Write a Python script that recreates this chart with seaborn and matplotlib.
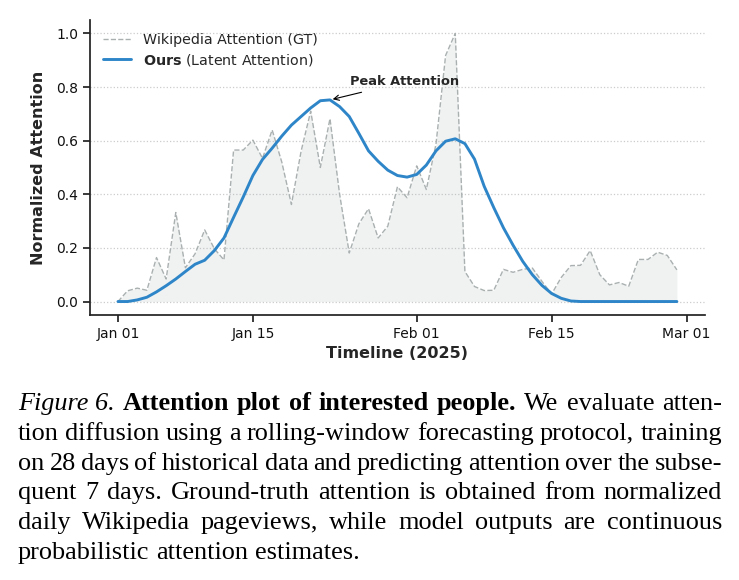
import numpy as np
import pandas as pd
import seaborn as sns
import matplotlib.pyplot as plt
import matplotlib.dates as mdates

# daily values, Jan 01 .. Feb 28 2025
dates = pd.date_range("2025-01-01", "2025-02-28", freq="D")

wiki_gt = [
    0.0, 0.04, 0.05, 0.042, 0.164, 0.084, 0.332, 0.126, 0.178, 0.267,
    0.197, 0.155, 0.565, 0.565, 0.602, 0.534, 0.64, 0.52, 0.362, 0.56,
    0.71, 0.50, 0.682, 0.40, 0.181, 0.29, 0.346, 0.237, 0.281, 0.428,
    0.387, 0.506, 0.418, 0.587, 0.918, 1.0, 0.112, 0.056, 0.041, 0.042,
    0.12, 0.109, 0.12, 0.125, 0.075, 0.028, 0.09, 0.134, 0.135, 0.19,
    0.10, 0.062, 0.071, 0.057, 0.157, 0.157, 0.184, 0.172, 0.118,
]

ours = [
    0.0, 0.0, 0.006, 0.016, 0.036, 0.059, 0.084, 0.112, 0.139, 0.154,
    0.19, 0.237, 0.314, 0.39, 0.47, 0.53, 0.572, 0.617, 0.658, 0.69,
    0.722, 0.749, 0.752, 0.727, 0.69, 0.627, 0.562, 0.523, 0.49, 0.47,
    0.464, 0.474, 0.509, 0.562, 0.598, 0.607, 0.589, 0.531, 0.43, 0.35,
    0.275, 0.21, 0.15, 0.10, 0.06, 0.03, 0.012, 0.002, 0.0, 0.0,
    0.0, 0.0, 0.0, 0.0, 0.0, 0.0, 0.0, 0.0, 0.0,
]

df = pd.DataFrame({"date": dates, "gt": wiki_gt, "ours": ours})

sns.set_theme(style="ticks")
plt.rcParams["font.family"] = ["DejaVu Sans"]

fig = plt.figure(figsize=(7.39, 5.8), dpi=100)
ax = fig.add_axes([0.1218, 0.457, 0.832, 0.5085])

ax.fill_between(df["date"], df["gt"], color="#95a5a6", alpha=0.14, lw=0)
sns.lineplot(data=df, x="date", y="gt", ax=ax, color="#aab0b0",
             linestyle="--", lw=1.0, label="Wikipedia Attention (GT)")
sns.lineplot(data=df, x="date", y="ours", ax=ax, color="#2e86c8",
             lw=2.1, label=r"$\bf{Ours}$ (Latent Attention)")

# peak annotation
i_peak = int(np.argmax(ours))
ax.annotate("Peak Attention", xy=(dates[i_peak], ours[i_peak]),
            xytext=(14.5, 10.5), textcoords="offset points",
            fontsize=9.4, fontweight="bold",
            arrowprops=dict(arrowstyle="->", color="black", lw=0.8))

ax.xaxis.set_major_locator(mdates.DayLocator(bymonthday=[1, 15]))
ax.xaxis.set_major_formatter(mdates.DateFormatter("%b %d"))
ax.set_yticks([0.0, 0.2, 0.4, 0.6, 0.8, 1.0])
ax.yaxis.set_major_formatter(plt.FormatStrFormatter("%.1f"))
ax.tick_params(labelsize=10, length=5, color="#222222", labelcolor="#111111")
ax.yaxis.grid(True, linestyle=":", color="#cccccc", lw=0.9)
sns.despine(ax=ax)
for s in ["left", "bottom"]:
    ax.spines[s].set_color("#222222")

ax.set_xlabel("Timeline (2025)", fontsize=11.5, fontweight="bold", labelpad=4)
ax.set_ylabel("Normalized Attention", fontsize=11.5, fontweight="bold", labelpad=7)
ax.legend(loc="upper left", frameon=False, fontsize=10.3, labelspacing=0.35)

# caption, justified like the paper
cap_lines = [
    [("Figure 6.", "italic"), ("Attention", "bold"), ("plot", "bold"), ("of", "bold"),
     ("interested", "bold"), ("people.", "bold"), ("We", ""), ("evaluate", ""), ("atten-", "")],
    [(w, "") for w in "tion diffusion using a rolling-window forecasting protocol, training".split()],
    [(w, "") for w in "on 28 days of historical data and predicting attention over the subse-".split()],
    [(w, "") for w in "quent 7 days. Ground-truth attention is obtained from normalized".split()],
    [(w, "") for w in "daily Wikipedia pageviews, while model outputs are continuous".split()],
    [(w, "") for w in "probabilistic attention estimates.".split()],
]

W, H = 739.0, 580.0
x0, x1 = 18.0, 722.0
base0, step = 410.0, 29.8
cap_size = 18.9
renderer = fig.canvas.get_renderer()
space_t = fig.text(0, 0, "a a", family="Liberation Serif", fontsize=cap_size)
a_t = fig.text(0, 0, "aa", family="Liberation Serif", fontsize=cap_size)
space_w = space_t.get_window_extent(renderer).width - a_t.get_window_extent(renderer).width
space_t.remove()
a_t.remove()

for k, line in enumerate(cap_lines):
    y = 1 - (base0 + k * step) / H
    texts = []
    for word, style in line:
        kw = dict(family="Liberation Serif", fontsize=cap_size, va="baseline", color="black")
        if style == "italic":
            kw["style"] = "italic"
        if style == "bold":
            kw["weight"] = "bold"
        texts.append(fig.text(0, y, word, **kw))
    widths = [t.get_window_extent(renderer).width for t in texts]
    if k < len(cap_lines) - 1:
        gap = (x1 - x0 - sum(widths)) / (len(texts) - 1)
    else:
        gap = space_w
    x = x0
    for t, w in zip(texts, widths):
        t.set_x(x / W)
        x += w + gap

fig.savefig("out.png", dpi=100)
